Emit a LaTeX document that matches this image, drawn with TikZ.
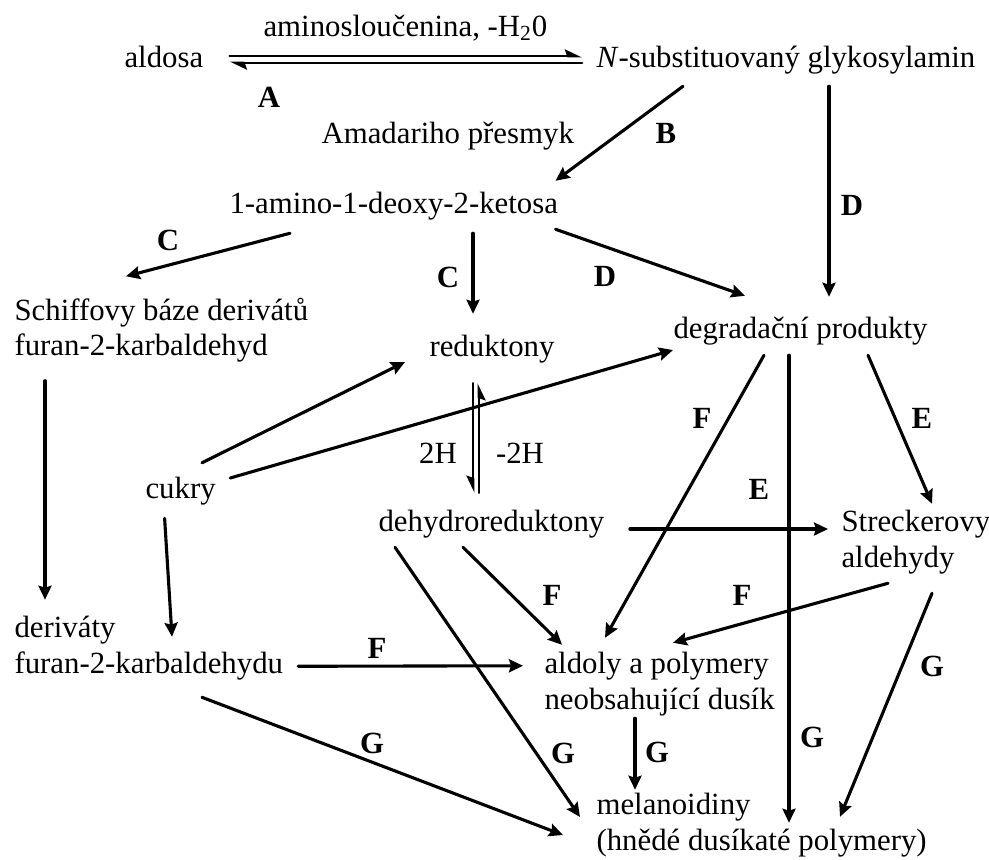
\documentclass[tikz,border=0pt]{standalone}
\usepackage{fontspec}
\setmainfont{Liberation Serif}
\usetikzlibrary{arrows.meta}

\begin{document}
\begin{tikzpicture}[
		x=0.5pt, y=-0.5pt,
		>={Stealth[length=7pt,width=6.5pt,inset=1pt]},
		line width=1.55pt,
		line cap=round,
		line join=round,
		txt/.style={inner sep=0pt, anchor=west, align=left, font=\fontsize{15.4}{17.7}\selectfont,
			execute at begin node=\strut, execute at end node=\strut},
		note/.style={inner sep=0pt, font=\fontsize{15.4}{17.7}\selectfont},
		lab/.style={inner sep=0pt, font=\fontsize{15.4}{17.7}\selectfont\bfseries},
		hl/.style={line width=1.4pt, -{Stealth[left,length=7pt,width=6.5pt,inset=1pt]}},
		hr/.style={line width=1.4pt, -{Stealth[right,length=7pt,width=6.5pt,inset=1pt]}}
		]
		\useasboundingbox (0,0) rectangle (989,859);
		% latky
		\node[txt] (aldosa) at (123,60) {aldosa};
		\node[txt] (nsub) at (595,60) {\textit{N}-substituovaný glykosylamin};
		\node[txt] (amin) at (262,29) {aminosloučenina, -H\textsubscript{2}0};
		\node[txt] (amad) at (320,136) {Amadariho přesmyk};
		\node[txt] (keto) at (228,206) {1-amino-1-deoxy-2-ketosa};
		\node[txt] (schiff) at (13,332) {Schiffovy báze derivátů\\furan-2-karbaldehyd};
		\node[txt] (redukt) at (428,349) {reduktony};
		\node[txt] (degr) at (672,331) {degradační produkty};
		\node[txt] (cukry) at (144,491) {cukry};
		\node[txt] (dehydro) at (377,524) {dehydroreduktony};
		\node[txt] (streck) at (840,544) {Streckerovy\\aldehydy};
		\node[txt] (deriv) at (13,650) {deriváty\\furan-2-karbaldehydu};
		\node[txt] (aldoly) at (543,686) {aldoly a polymery\\neobsahující dusík};
		\node[txt] (melan) at (595,827) {melanoidiny\\(hnědé dusíkaté polymery)};
		\node[note] (h2) at (438,453) {2H};
		\node[note] (mh2) at (520,453) {-2H};
		% pismena reakci
		\node[lab] (A) at (269,97) {A};
		\node[lab] (B) at (666,133) {B};
		\node[lab] (C1) at (168,240) {C};
		\node[lab] (C2) at (448,277) {C};
		\node[lab] (D1) at (852,205) {D};
		\node[lab] (D2) at (605,276) {D};
		\node[lab] (E1) at (922,418) {E};
		\node[lab] (E2) at (759,489) {E};
		\node[lab] (F1) at (702,418) {F};
		\node[lab] (F2) at (377,648) {F};
		\node[lab] (F3) at (552,595) {F};
		\node[lab] (F4) at (742,595) {F};
		\node[lab] (G1) at (932,666) {G};
		\node[lab] (G2) at (812,737) {G};
		\node[lab] (G3) at (657,752) {G};
		\node[lab] (G4) at (563,753) {G};
		\node[lab] (G5) at (372,743) {G};
		% rovnovahy
		\draw[hl] ([shift={(25,-4)}]aldosa.east) -- ([shift={(-13,-4)}]nsub.west);
		\draw[hl] ([shift={(-13,3)}]nsub.west) -- ([shift={(25,3)}]aldosa.east);
		\draw[hr] ([shift={(45,15)}]redukt.south west) -- ([shift={(96,-12)}]dehydro.north west);
		\draw[hr] ([shift={(102,-12)}]dehydro.north west) -- ([shift={(51,15)}]redukt.south west);
		\begin{scope}[->]
		\draw ([shift={(88,7)}]nsub.south west) -- ([shift={(-4,-6)}]keto.north east);
		\draw ([shift={(234,7)}]nsub.south west) -- ([shift={(157,-15)}]degr.north west);
		\draw ([shift={(62,8)}]keto.south west) -- ([shift={(113,-20)}]schiff.north west);
		\draw ([shift={(245,8)}]keto.south west) -- ([shift={(45,-16)}]redukt.north west);
		\draw ([shift={(-4,4)}]keto.south east) -- ([shift={(73,-16)}]degr.north west);
		\draw ([shift={(32,13)}]schiff.south west) -- ([shift={(32,-15)}]deriv.north west);
		\draw ([shift={(58,-9)}]cukry.north west) -- ([shift={(-23,13)}]redukt.west);
		\draw ([shift={(13,-13)}]cukry.east) -- ([shift={(1,19)}]degr.west);
		\draw ([shift={(-16,8)}]cukry.south) -- ([shift={(159,22)}]deriv.north west);
		\draw ([shift={(92,5)}]degr.south west) -- ([shift={(62,-13)}]aldoly.north west);
		\draw ([shift={(117,5)}]degr.south west) -- ([shift={(194,31)}]melan.north west);
		\draw ([shift={(196,5)}]degr.south west) -- ([shift={(92,-5)}]streck.north west);
		\draw ([shift={(24,5)}]dehydro.east) -- ([shift={(-12,-15)}]streck.west);
		\draw ([shift={(86,4)}]dehydro.south west) -- ([shift={(19,-6)}]aldoly.north west);
		\draw ([shift={(18,4)}]dehydro.south west) -- ([shift={(-15,-10)}]melan.west);
		\draw ([shift={(13.5,-19)}]deriv.south east) -- ([shift={(-20,15)}]aldoly.north west);
		\draw ([shift={(189,12)}]deriv.south west) -- ([shift={(-32,8)}]melan.west);
		\draw ([shift={(48,4)}]streck.south west) -- ([shift={(130,-8)}]aldoly.north west);
		\draw ([shift={(92,14)}]streck.south west) -- ([shift={(245,25)}]melan.north west);
		\draw ([shift={(92,-3)}]aldoly.south west) -- ([shift={(40,-2)}]melan.north west);
		\end{scope}
\end{tikzpicture}
\end{document}
